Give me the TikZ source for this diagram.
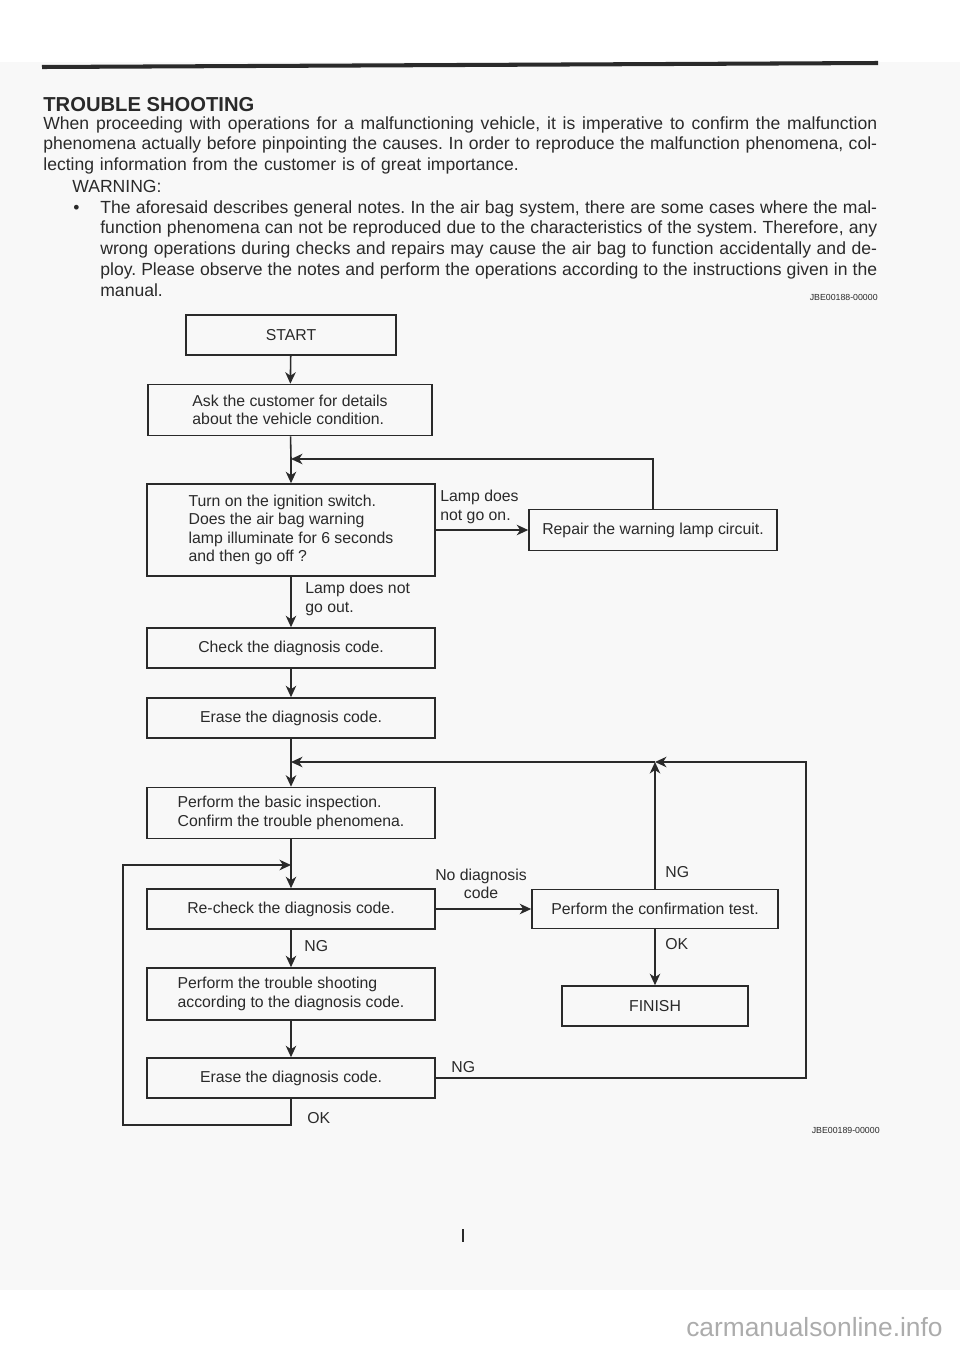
\documentclass[tikz,border=0pt]{standalone}
\usepackage{fontspec}
\setmainfont{Liberation Sans}
\usepackage{xcolor}
\usetikzlibrary{arrows.meta, positioning, calc}
\definecolor{ink}{HTML}{2A2A2A}
\definecolor{paper}{HTML}{F8F8F8}
\newcommand{\fullline}[2]{\leavevmode\hbox to #1{\spaceskip=0.27em plus 0.5em minus 0.08em\relax #2}}

\begin{document}
\begin{tikzpicture}[
    x=0.02cm, y=-0.02cm,
    block/.style={draw=ink, line width=0.9pt, minimum width=5.76cm, minimum height=0.8cm, align=left, font=\fontsize{9}{10.5}\selectfont, text=ink},
    arrow/.style={-{Stealth[length=2.3mm, width=2.1mm, inset=0.7mm]}, line width=0.9pt, draw=ink},
    wire/.style={line width=0.9pt, draw=ink},
    tag/.style={font=\fontsize{9}{10.5}\selectfont, text=ink, align=left, inner sep=0pt},
    body/.style={font=\fontsize{10}{11.9}\selectfont\frenchspacing, text=ink, inner sep=0pt},
    smallcode/.style={font=\fontsize{5}{6}\selectfont, text=ink, inner sep=0pt}
]
\useasboundingbox (0,0) rectangle (960,1346);
\fill[white] (0,0) rectangle (960,1346);
\fill[paper] (0,62) rectangle (960,1290);

% Header
\draw[ink, line width=2.3pt] (42,67) -- (878,63);
\node[body, font=\fontsize{11.5}{13}\bfseries, anchor=base west] (title) at (43,111) {TROUBLE SHOOTING};
\node[body, text width=16.68cm, align=left, anchor=base west] (intro) at (43,129) {%
\fullline{16.68cm}{When proceeding with operations for a malfunctioning vehicle, it is imperative to confirm the malfunction}\\
\fullline{16.68cm}{phenomena actually before pinpointing the causes. In order to reproduce the malfunction phenomena, col-}\\
lecting information from the customer is of great importance.};
\node[body, anchor=base west] (warn) at (72,192) {WARNING:};
\node[body, anchor=base west] (dot) at (73,213) {\textbullet};
\node[body, text width=15.54cm, align=left, anchor=base west] (notes) at (100,213) {%
\fullline{15.54cm}{The aforesaid describes general notes. In the air bag system, there are some cases where the mal-}\\
\fullline{15.54cm}{function phenomena can not be reproduced due to the characteristics of the system. Therefore, any}\\
\fullline{15.54cm}{wrong operations during checks and repairs may cause the air bag to function accidentally and de-}\\
\fullline{15.54cm}{ploy. Please observe the notes and perform the operations according to the instructions given in the}\\
manual.};
\node[smallcode, anchor=base east] (code1) at (878,300) {JBE00188-00000};

% Main column
\node[block, minimum width=4.2cm, align=center] (start) at (291,335) {START};
\node[block, minimum width=5.68cm, minimum height=1.02cm] (ask) at (290,410) {Ask the customer for details\\about the vehicle condition.};
\node[block, minimum height=1.84cm] (turn) at (291,530) {Turn on the ignition switch.\\Does the air bag warning\\lamp illuminate for 6 seconds\\and then go off ?};
\node[block, minimum width=4.96cm, minimum height=0.82cm] (repair) at (653,530) {Repair the warning lamp circuit.};
\node[block] (check) at (291,648) {Check the diagnosis code.};
\node[block] (erase) at (291,718) {Erase the diagnosis code.};
\node[block, minimum height=1.02cm] (basic) at (291,813) {Perform the basic inspection.\\Confirm the trouble phenomena.};
\node[block] (recheck) at (291,909) {Re-check the diagnosis code.};
\node[block, minimum height=1.04cm] (trouble) at (291,994) {Perform the trouble shooting\\according to the diagnosis code.};
\node[block] (erase2) at (291,1078) {Erase the diagnosis code.};

% Right column
\node[block, minimum width=4.92cm, minimum height=0.78cm] (confirm) at (655,909) {Perform the confirmation test.};
\node[block, minimum width=3.72cm, align=center] (finish) at (655,1006) {FINISH};

% Junctions
\coordinate (m1) at (291,459);
\coordinate (m2) at (291,762);
\coordinate (m3) at (291,865);
\coordinate (ngtop) at (655,762);
\coordinate (ret) at (806,762);
\coordinate (back) at (123,1125);

% Connectors
\draw[arrow] (start) -- (ask);
\draw[wire] (ask) -- (m1);
\draw[arrow] (m1) -- (turn);
\draw[arrow] (repair.north) |- (m1);
\draw[arrow] (turn.east) -- (repair.west);
\draw[arrow] (turn) -- (check);
\draw[arrow] (check) -- (erase);
\draw[wire] (erase) -- (m2);
\draw[arrow] (m2) -- (basic);
\draw[wire] (basic) -- (m3);
\draw[arrow] (m3) -- (recheck);
\draw[arrow] (recheck) -- (confirm);
\draw[arrow] (recheck) -- (trouble);
\draw[arrow] (trouble) -- (erase2);
\draw[arrow] (confirm) -- (finish);
\draw[arrow] (confirm.north) -- (ngtop);
\draw[arrow] (erase2.east) -| (ret) -- (ngtop);
\draw[arrow] (ngtop) -- (m2);
\draw[arrow] (erase2.south) |- (back) |- (m3);

% Connector labels
\node[tag, anchor=west] (lampon) at (440,507) {Lamp does\\not go on.};
\node[tag, anchor=west] (lampout) at (305,599) {Lamp does not\\go out.};
\node[tag, align=center] (nocode) at (481,884) {No diagnosis\\code};
\node[tag, anchor=west] (ng1) at (304,946) {NG};
\node[tag, anchor=west] (ng2) at (665,872) {NG};
\node[tag, anchor=west] (ok1) at (665,944) {OK};
\node[tag, anchor=west] (ng3) at (451,1067) {NG};
\node[tag, anchor=west] (ok2) at (307,1118) {OK};

% Footer
\node[smallcode, anchor=base east] (code2) at (880,1133) {JBE00189-00000};
\draw[ink, line width=0.6pt] (463,1229) -- (463,1242);
\node[anchor=base east, inner sep=0pt, text=gray!65, font=\fontsize{15}{18}\selectfont] (mark) at (943,1336) {carmanualsonline.info};
\end{tikzpicture}
\end{document}
